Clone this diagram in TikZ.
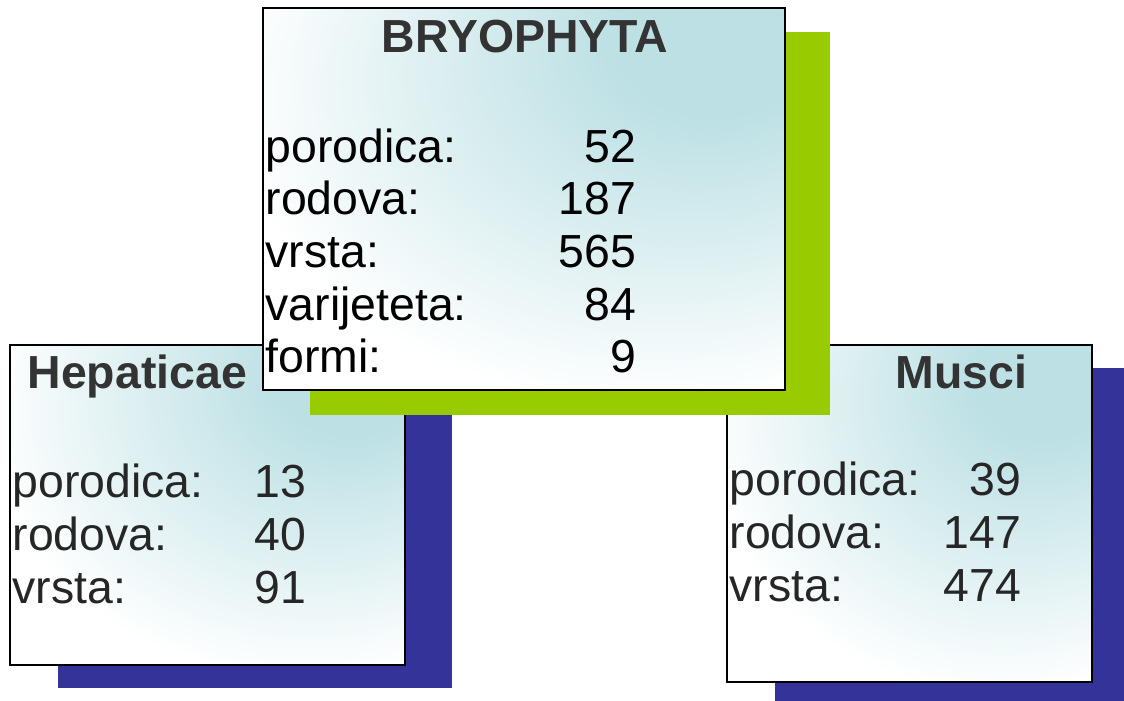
\documentclass[tikz,border=0pt]{standalone}
\usepackage{fontspec}
\setmainfont{Liberation Sans}
\usepackage{tikz}

\definecolor{glowcyan}{HTML}{BCE0E4}
\definecolor{shadowblue}{HTML}{333399}
\definecolor{shadowgreen}{HTML}{99CC00}
\definecolor{titlegray}{HTML}{333333}

\pgfdeclareradialshading{boxglow}{\pgfpoint{20bp}{22bp}}{color(0bp)=(glowcyan); color(9bp)=(glowcyan); color(40bp)=(white); color(100bp)=(white)}

\tikzset{
  infobox/.style={draw=black, line width=0.8pt, shade, shading=boxglow, rectangle, inner sep=0pt, outer sep=0pt, anchor=north west},
  lbl/.style={anchor=base west, inner sep=0pt, font=\fontsize{13.2}{15}\selectfont},
  num/.style={anchor=base east, inner sep=0pt, font=\fontsize{13.2}{15}\selectfont},
  boxtitle/.style={inner sep=0pt, text=titlegray, font=\fontsize{13.2}{15}\selectfont\bfseries}
}

\begin{document}
\begin{tikzpicture}
\useasboundingbox (0,0) rectangle (11.24,7.00);
\clip (0,0) rectangle (11.24,7.00);

% Hepaticae
\fill[shadowblue] (0.58,3.30) rectangle (4.52,0.12);
\node[infobox, minimum width=3.95cm, minimum height=3.20cm] (hep) at (0.10,3.55) {};
\node[boxtitle, anchor=base west] (hep-t) at (0.27,3.12) {Hepaticae};
\foreach \lab/\val [count=\i] in {porodica:/13, rodova:/40, vrsta:/91}
{
  \node[lbl, text=black!85] (hep-l\i) at (0.12,{2.03-0.53*(\i-1)}) {\lab};
  \node[num, text=black!85] (hep-n\i) at (3.07,{2.03-0.53*(\i-1)}) {\val};
}

% Musci
\fill[shadowblue] (7.75,3.32) rectangle (11.40,-0.06);
\node[infobox, minimum width=3.65cm, minimum height=3.37cm] (mus) at (7.27,3.55) {};
\node[boxtitle, anchor=base east] (mus-t) at (10.28,3.12) {Musci};
\foreach \lab/\val [count=\i] in {porodica:/39, rodova:/147, vrsta:/474}
{
  \node[lbl, text=black!85] (mus-l\i) at (7.29,{2.05-0.53*(\i-1)}) {\lab};
  \node[num, text=black!85] (mus-n\i) at (10.22,{2.05-0.53*(\i-1)}) {\val};
}

% Bryophyta
\fill[shadowgreen] (3.10,6.68) rectangle (8.30,2.85);
\node[infobox, minimum width=5.22cm, minimum height=3.82cm] (bryo) at (2.63,6.92) {};
\node[boxtitle, anchor=base] (bryo-t) at (5.25,6.48) {BRYOPHYTA};
\foreach \lab/\val [count=\i] in {porodica:/52, rodova:/187, vrsta:/565, varijeteta:/84, formi:/9}
{
  \node[lbl] (bryo-l\i) at (2.65,{5.38-0.527*(\i-1)}) {\lab};
  \node[num] (bryo-n\i) at (6.37,{5.38-0.527*(\i-1)}) {\val};
}

\end{tikzpicture}
\end{document}
